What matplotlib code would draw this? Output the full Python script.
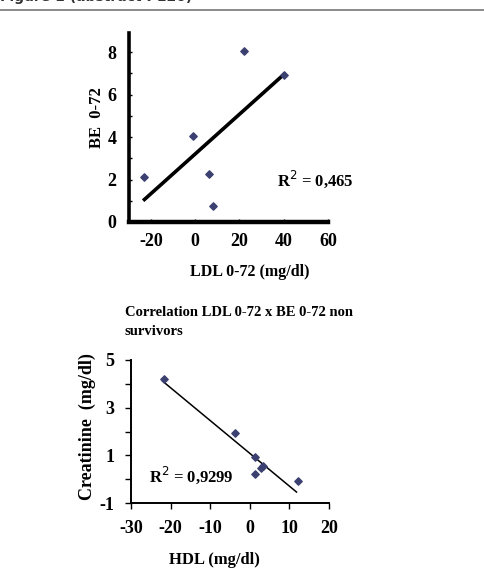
import numpy as np
import matplotlib.pyplot as plt
from matplotlib.lines import Line2D

# top panel: LDL 0-72 vs BE 0-72
ldl = [-23, -1, 6, 8, 22, 40]
be = [2.1, 4.05, 2.25, 0.75, 8.05, 6.9]

# bottom panel: HDL vs creatinine
hdl = [-21.6, -3.84, 1.3, 1.2, 2.9, 3.4, 12.1]
creat = [4.19, 1.95, 0.94, 0.22, 0.45, 0.55, -0.09]

serif = 'Liberation Serif'
mcol = '#3b4070'
plt.rcParams['axes.unicode_minus'] = False

fig = plt.figure(figsize=(4.84, 5.86), dpi=100)

# header (cut off at top of page, as in the source scan)
fig.text(0.0, 1 + 3/586, 'Figure 1 (abstract P120)', family='DejaVu Sans', weight='bold',
         fontsize=10, color='#333333', va='center', ha='left')
fig.add_artist(Line2D([0, 1], [1 - 10/586, 1 - 10/586], color='#777777', lw=1.2))

# ---- top chart
ax1 = fig.add_axes([0.2665, 0.6212, 0.411, 0.3225])
ax1.scatter(ldl, be, marker='D', s=14, c=mcol, zorder=3)
k, b = np.polyfit(ldl, be, 1)
xx = np.array([min(ldl), max(ldl)])
ax1.plot(xx, k*xx + b, color='black', lw=2.6)
ax1.set_xlim(-30, 60)
ax1.set_ylim(0, 8.9)
ax1.set_xticks([-20, 0, 20, 40, 60])
ax1.set_yticks([0, 2, 4, 6, 8])
ax1.set_yticks([1, 3, 5, 7], minor=True)
for s in ['top', 'right']:
    ax1.spines[s].set_visible(False)
ax1.spines['left'].set_linewidth(2.6)
ax1.spines['bottom'].set_linewidth(3.2)
ax1.tick_params(which='both', length=2, width=1, direction='in')
ax1.tick_params(axis='y', pad=9)
ax1.tick_params(axis='x', pad=8)
for t in ax1.get_xticklabels() + ax1.get_yticklabels():
    t.set_family(serif); t.set_weight('bold'); t.set_fontsize(13)
ax1.text(37, 2.0, 'R$^2$ = 0,465', family=serif, weight='bold', fontsize=12, va='center')
fig.text(97/484, 1 - 118/586, 'BE  0-72', family=serif, weight='bold', fontsize=12,
         rotation=90, ha='center', va='center')
fig.text(250/484, 1 - 272/586, 'LDL 0-72 (mg/dl)', family=serif, weight='bold', fontsize=11.5,
         ha='center', va='center')

fig.text(125/484, 1 - 322/586, 'Correlation LDL 0-72 x BE 0-72 non\nsurvivors', family=serif,
         weight='bold', fontsize=10.5, ha='left', va='center', linespacing=1.6)

# ---- bottom chart
ax2 = fig.add_axes([0.2707, 0.1416, 0.409, 0.2441])
ax2.scatter(hdl, creat, marker='D', s=14, c=mcol, zorder=3)
k2, b2 = np.polyfit(hdl, creat, 1)
xx2 = np.array([-22, 11.8])
ax2.plot(xx2, k2*xx2 + b2, color='black', lw=1.1)
ax2.set_xlim(-30, 20)
ax2.set_ylim(-1, 5)
ax2.set_xticks([-30, -20, -10, 0, 10, 20])
ax2.set_yticks([-1, 1, 3, 5])
ax2.set_yticks([0, 2, 4], minor=True)
for s in ['top', 'right']:
    ax2.spines[s].set_visible(False)
ax2.spines['left'].set_linewidth(1.4)
ax2.spines['bottom'].set_linewidth(1.4)
ax2.tick_params(which='both', length=4, width=1, pad=8)
for t in ax2.get_xticklabels() + ax2.get_yticklabels():
    t.set_family(serif); t.set_weight('bold'); t.set_fontsize(13)
ax2.text(-25.4, 0.17, 'R$^2$ = 0,9299', family=serif, weight='bold', fontsize=12, va='center')
fig.text(87/484, 1 - 427/586, 'Creatinine  (mg/dl)', family=serif, weight='bold', fontsize=13,
         rotation=90, ha='center', va='center')
fig.text(214/484, 1 - 560/586, 'HDL (mg/dl)', family=serif, weight='bold', fontsize=12,
         ha='center', va='center')

fig.savefig('out.png', dpi=100)
